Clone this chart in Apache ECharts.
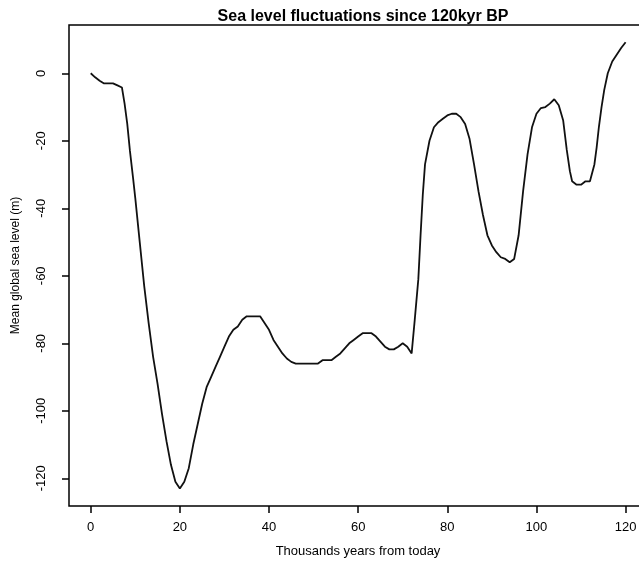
<!DOCTYPE html>
<html>
<head>
<meta charset="utf-8">
<script src="https://cdn.jsdelivr.net/npm/echarts@6/dist/echarts.min.js"></script>
<style>
html,body{margin:0;padding:0;background:#fff;}
#main{width:639px;height:564px;}
</style>
</head>
<body>
<div id="main"></div>
<script>
// Thousands of years from today
var years = [0,1,2,3,4,5,6,7,7.6,8.2,8.8,9.5,10,11,12,13,14,15,16,17,18,19,20,21,22,23,24,25,26,27,28,29,30,31,32,33,34,35,36,37,38,39,40,41,42,43,44,45,46,47,48,49,50,51,52,53,54,55,56,57,58,59,60,61,62,63,64,65,66,67,68,69,70,71,72,72.7,73.5,74,74.5,75,76,77,78,79,80,81,82,83,84,85,86,87,88,89,90,91,92,93,94,95,96,97,98,99,100,101,102,103,104,105,106,106.8,107.5,108,109,110,111,112,113,113.5,114,114.6,115.2,116,117,118,119,120];
// Mean global sea level (m)
var seaLevel = [0,-1.2,-2.2,-3,-3,-3,-3.6,-4.2,-9,-15,-23,-31,-37,-50,-63,-74,-84,-92,-101,-109,-116,-121,-123,-121,-117,-110,-104,-98,-93,-90,-87,-84,-81,-78,-76,-75,-73,-72,-72,-72,-72,-74,-76,-79,-81,-83,-84.5,-85.5,-86,-86,-86,-86,-86,-86,-85,-85,-85,-84,-83,-81.5,-80,-79,-78,-77,-77,-77,-78,-79.5,-81,-81.8,-81.8,-81,-80,-81,-83,-73,-61,-48,-36,-27,-20,-16,-14.5,-13.5,-12.5,-12,-12,-13,-15,-19.5,-27,-35,-42,-48,-51,-53,-54.5,-55,-56,-55,-48,-35,-24,-16,-12,-10.3,-10,-9,-7.7,-9.5,-14,-22.7,-29,-32,-33,-33,-32,-32,-27,-22,-16,-10,-5,0,3.5,5.5,7.5,9.2];
var xTicks = [0,20,40,60,80,100,120];
var yTicks = [-120,-100,-80,-60,-40,-20,0];

var pts = years.map(function(x,i){ return [x, seaLevel[i]]; });
var font = 'Liberation Sans, Arial, sans-serif';
var chart = echarts.init(document.getElementById('main'), null, {renderer:'canvas'});
chart.setOption({
  animation:false,
  backgroundColor:'#fff',
  title:{
    text:'Sea level fluctuations since 120kyr BP',
    left:358, top:4, textAlign:'center',
    textStyle:{fontFamily:font,fontSize:16,fontWeight:'bold',color:'#000'}
  },
  grid:{left:69, top:25, width:578, bottom:58, outerBoundsMode:'none', containLabel:false, show:true, borderColor:'#000', borderWidth:1.5, backgroundColor:'transparent'},
  xAxis:{
    type:'value', min:-4.87, max:124.8,
    name:'Thousands years from today', nameLocation:'middle', nameGap:39,
    nameTextStyle:{fontFamily:font,fontSize:13,color:'#000'},
    axisLine:{show:false, onZero:false},
    splitLine:{show:false},
    axisTick:{show:true, inside:false, length:7, customValues:xTicks, lineStyle:{color:'#000',width:1.5}},
    axisLabel:{customValues:xTicks, margin:15, fontFamily:font, fontSize:13, color:'#000'}
  },
  yAxis:{
    type:'value', min:-128.2, max:14.3,
    name:'Mean global sea level (m)', nameLocation:'middle', nameGap:47,
    nameTextStyle:{fontFamily:font,fontSize:12,color:'#000'},
    axisLine:{show:false, onZero:false},
    splitLine:{show:false},
    axisTick:{show:true, inside:false, length:7, customValues:yTicks, lineStyle:{color:'#000',width:1.5}},
    axisLabel:{customValues:yTicks, rotate:90, margin:21, fontFamily:font, fontSize:13, color:'#000'}
  },
  series:[{
    type:'line', data:pts, showSymbol:false, symbol:'none',
    lineStyle:{color:'#111', width:1.8}, smooth:false, clip:true
  }]
});
</script>
</body>
</html>
